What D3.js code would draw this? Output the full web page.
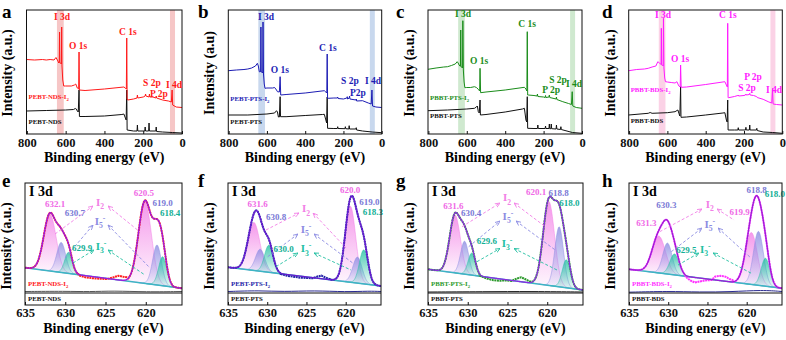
<!DOCTYPE html>
<html>
<head>
<meta charset="utf-8">
<script src="https://cdn.jsdelivr.net/npm/d3@7"></script>
<style>
body { margin: 0; background: #fff; }
svg text { font-family: "Liberation Serif", "Times New Roman", serif; font-weight: bold; }
</style>
</head>
<body>
<svg id="fig" width="786" height="340"></svg>
<script>
// ---- survey spectra: [binding energy (eV), intensity (a.u.)] ----
var surveyA_I2 = [[802,74.5],[760,74],[720,74.5],[700,74],[680,74.5],[660,74],[650,76.5],[640,73],[636,71],[633,72],[631.5,102],[630,71],[626,71],[622,70],[620.5,107],[619,68],[615,54],[610,48],[600,48],[570,48],[555,49],[548,50],[540,46],[533,45],[531,82],[529,44],[500,43.5],[400,45],[300,47],[292,46],[287,45],[285,96],[283,35],[280,34],[250,35],[232,36],[230,39],[228,36],[200,37],[190,38],[188,40],[186,38],[170,37],[168,40],[166,37],[150,37],[135,36],[133,38],[131,36],[100,34],[70,33],[55,32],[51,44],[48,29],[30,27],[0,26.5]];
var surveyA = [[802,23],[700,23.5],[600,24],[560,24.5],[550,25.5],[545,25],[540,23],[535,22],[531,44],[529,17.5],[500,17.5],[400,18],[310,19.5],[300,20],[292,16],[288,14],[285,44],[283,4],[250,3],[232,3],[230,9],[228,3],[192,3],[190,7],[188,3],[172,3],[170,11],[168,3],[135,3],[133,7],[131,2.5],[100,2],[50,1.5],[0,1]];

var surveyB_I2 = [[802,63.3],[760,64],[720,64.5],[700,65],[680,66],[660,68],[650,70.7],[645,68],[640,62.3],[636,62],[633,63],[631.5,107],[630,62],[626,62],[622,61],[620.5,112],[618,60],[614,50],[610,45.7],[600,46],[570,46],[560,46.5],[550,44],[545,42.3],[535,42],[531,57.3],[528,39],[500,39.5],[400,41],[300,43.3],[292,42],[287,41],[285,80],[283,35.7],[280,35.7],[250,36],[232,36],[230,37],[228,35.5],[200,35],[182,36],[180,37.3],[178,35],[170,36],[168,38],[166,35],[135,34],[133,35],[131,33],[100,33.3],[70,31],[55,30],[51,44],[48,28],[30,27],[0,26.5]];
var surveyB = [[802,19],[700,19],[600,20],[560,21],[550,23.3],[545,22],[540,17],[535,17],[531,37.3],[529,17.3],[500,17.3],[400,18.5],[310,19.5],[300,19.7],[292,14],[288,11],[285,37],[283,5.7],[250,5.5],[232,5.5],[230,7.3],[228,5.5],[192,5.3],[190,7.3],[188,5.3],[172,5],[170,8.3],[168,5],[135,5],[133,6.3],[131,4],[100,3],[50,2],[0,1.3]];

var surveyC_I2 = [[802,64.7],[760,66],[720,67],[700,67.3],[680,68.5],[660,70],[650,72.3],[645,71],[640,69],[636,68],[633,68],[631.5,104],[630,67],[626,67],[622,66],[620.5,113.3],[618,64],[614,52],[610,46.3],[600,46.5],[580,46.5],[560,47.3],[550,46.5],[540,44.7],[533,43],[531,65.7],[528,41.3],[500,42],[400,44],[300,46.7],[292,45],[287,43],[285,102.3],[283,39],[280,39],[250,38.5],[234,38],[232,40],[230,37.5],[200,37],[192,36.5],[190,38.5],[188,36.5],[172,37],[170,39],[168,36.5],[135,35],[133,37],[131,34.5],[100,32.3],[70,30.5],[55,29.5],[51,42.3],[48,28],[30,26.5],[0,25.7]];
var surveyC = [[802,23.3],[700,24],[600,25],[560,25.7],[550,27],[545,28],[540,22.3],[535,21],[531,34],[529,19],[500,19.5],[400,22],[310,25],[300,25.7],[292,14],[288,12],[285,37.3],[283,5.7],[250,5.5],[232,5.5],[230,9],[228,5.5],[192,5.5],[190,8],[188,5.5],[172,5.5],[170,10],[168,5.3],[162,5.3],[160,10],[158,5.3],[135,5],[133,9],[131,5],[112,4.5],[110,7.3],[108,4.5],[50,1.5],[0,0.7]];

var surveyD_I2 = [[802,63.3],[760,64.5],[720,65],[700,65.7],[680,67],[660,68],[650,72.3],[645,71.5],[640,70.7],[636,70],[633,70],[631.5,105.7],[630,69],[626,69],[622,68],[620.5,115.7],[618,66],[614,56],[610,52.3],[600,52],[580,51.5],[560,51],[550,52.3],[545,50],[540,48],[533,47],[531,69],[528,46.7],[500,47],[400,49.5],[300,52.3],[292,49],[287,47],[285,110.7],[283,36.3],[280,36.3],[250,37.5],[232,38.5],[230,39],[228,38],[200,38.5],[192,39],[190,40],[188,39],[172,39.5],[170,40.7],[168,39],[150,38.5],[135,37.5],[133,37.3],[131,36.5],[100,34.7],[70,32],[55,31],[51,45.7],[48,30],[30,29.5],[0,29]];
var surveyD = [[802,19],[700,20.7],[690,21.5],[680,20.7],[600,21.3],[560,22.3],[550,23.5],[545,24],[540,20.7],[535,18],[531,47.3],[529,16.7],[500,17],[400,19],[310,21],[300,21.3],[292,14],[288,12],[285,34],[283,4],[250,4],[232,4],[230,6.3],[228,4],[192,4],[190,6.7],[188,4],[172,4],[170,9],[168,4],[135,4],[133,5.7],[131,3.5],[100,2],[50,1.5],[0,0.7]];

var surveyTicks = [800, 600, 400, 200, 0];
var bandI3d = [645, 610];
var bandI4d = [62, 36];

// peak names on the surveys: [text, eV, intensity]
var peakLabelsA = [["I 3d",619,114],["O 1s",536,85],["C 1s",279,99],["S 2p",155,48],["P 2p",119,37],["I 4d",41,46]];
var peakLabelsB = [["I 3d",605,114],["O 1s",532,61],["C 1s",281,83],["S 2p",166,50],["P2p",124,38],["I 4d",45,50]];
var peakLabelsC = [["I 3d",620,117],["O 1s",536,70],["C 1s",286,107],["S 2p",125,51],["P 2p",161,41],["I 4d",42,47]];
var peakLabelsD = [["I 3d",623,116],["O 1s",534,72],["C 1s",284,116],["P 2p",153,54],["S 2p",184,43],["I 4d",43,41]];

// ---- I 3d high resolution: fitted components [centre eV, height, fwhm] ----
var hrTicks = [635, 630, 625, 620];
var bgE = [25.3, 4.7], bgF = [25.7, 7], bgG = [23.7, 3], bgH = [23.7, 4.7];

var fitE_I2 = [[631.9,57,1.8],[620.1,82,1.9]];
var fitE_I5 = [[630.5,30,1.3],[618.6,40,1.3]];
var fitE_I3 = [[629.6,21,1.1],[617.9,29,1.2]];
var fitF_I2 = [[631.7,48,1.8],[619.4,76,1.6]];
var fitF_I5 = [[630.9,22,1.4],[618.5,26,1.4]];
var fitF_I3 = [[629.8,27,1.3],[617.7,34,1.3]];
var fitG_I2 = [[631.6,58,1.6],[619.8,84,1.7]];
var fitG_I5 = [[630.4,33,1.2],[618.5,60,1.3]];
var fitG_I3 = [[629.5,22,1.1],[617.6,28,1.2]];
var fitH_I2 = [[631.2,37,2.0],[619.4,52,1.8]];
var fitH_I5 = [[630.1,31,1.4],[618.5,54,1.5]];
var fitH_I3 = [[629.2,21,1.4],[617.6,28,1.3]];

// measured points in the valley between the doublets
var midE = [[628.3,17.5],[627.5,15.7],[626.6,14.7],[625.7,14.3],[624.8,14.0],[624.0,15.7],[623.4,17.3],[622.8,16.3],[622.2,15.5]];
var midF = [[628.3,19],[627.5,17.3],[626.7,16.3],[625.8,15.3],[625.0,15.0],[624.2,14.8],[623.6,16.5],[623.1,17.5],[622.6,15.5],[622.0,13.8]];
var midG = [[628.5,17.5],[627.6,14.5],[626.8,12.8],[626.0,12.3],[625.2,12.5],[624.5,12.0],[623.8,14.5],[623.3,15.7],[622.8,14.0],[622.2,11.5],[621.8,11.5]];
var midH = [[627.8,16.5],[627.2,12.5],[626.6,10.5],[626.0,11.5],[625.3,12.5],[624.5,13.0],[624.0,16.5],[623.3,17.2],[622.7,16.3],[622.2,14.0],[621.8,13.0]];

// pristine samples (no iodine)
var pristE = [[635,1.5],[630,1.8],[627,1.2],[624,2.2],[620,1.0],[615.5,1.5]];
var pristF = [[635,1.5],[631,2.5],[628,1.2],[624,2.5],[620,1.0],[617,2.0],[615.5,1.5]];
var pristG = [[635,1.0],[628,1.3],[622,1.6],[615.5,1.0]];
var pristH = [[635,0.8],[630,1.8],[626,0.8],[622,1.2],[618,3.0],[615.5,1.5]];

// binding energy labels: [text, eV, intensity, component]
var labelsE = [["632.1",631.27,89,"I2"],["630.7",628.79,79.7,"I5"],["629.9",627.9,45.3,"I3"],["620.5",620.22,99.7,"I2"],["619.0",617.9,89.7,"I5"],["618.4",616.99,80.3,"I3"]];
var labelsF = [["631.6",631.21,89,"I2"],["630.8",628.88,76.3,"I5"],["630.0",627.9,43.7,"I3"],["620.0",619.45,103,"I2"],["619.0",616.98,90.7,"I5"],["618.3",616.55,80.7,"I3"]];
var labelsG = [["631.6",631.8,87,"I2"],["630.4",629.59,80.5,"I5"],["629.6",627.6,52.3,"I3"],["620.1",621.4,101.3,"I2"],["618.8",618.56,99.7,"I5"],["618.0",617.2,90,"I3"]];
var labelsH = [["631.3",632.79,69.7,"I2"],["630.3",630.24,88,"I5"],["629.5",627.7,43,"I3"],["619.9",620.89,81.3,"I2"],["618.8",618.75,103,"I5"],["618.0",616.42,99,"I3"]];

// species tags and their dashed legs [e1, i1, e2, i2]
var speciesE = [[625.68,90],[625.68,71],[625.56,46]];
var speciesF = [[625.06,83.7],[625.06,63],[625.06,43.7]];
var speciesG = [[625.06,94.7],[624.94,76.3],[625.06,49]];
var speciesH = [[624.71,88],[624.71,68],[625.27,43]];
var legsE = [[[631.27,59,626.55,87],[624.69,87,620.72,61]],[[630.03,35,626.55,68],[624.69,68,619.47,25]],[[629.04,30,626.43,43],[624.69,43,620.1,18]]];
var legsF = [[[630.16,63,625.95,80],[624.16,80,619.96,45]],[[629.94,36.3,626.08,59],[624.04,59,619.1,30]],[[628.88,26.3,626.08,40],[624.04,40,619.32,23]]];
var legsG = [[[630.72,66.3,625.94,90],[624.18,90,620.24,66.3]],[[629.88,46.3,625.94,72],[623.93,72,618.99,43]],[[628.84,31.3,625.94,44.5],[624.18,44.5,618.77,23]]];
var legsH = [[[631.09,61.3,625.69,84],[623.78,84,621.61,73]],[[629.61,41.3,625.69,65],[623.65,65,619.41,34.7]],[[628.75,28,626.08,40],[624.29,40,619.41,19.7]]];

var species = ["I2", "I5", "I3"];
var speciesText = { I2: [["I",""],["2","sub"]], I5: [["I",""],["5","sub"],["-","sup"]], I3: [["I",""],["3","sub"],["-","sup"]] };
var compColor = { I2: "#f27fe6", I5: "#8c8ce2", I3: "#22bfa2" };
var compText = { I2: "#f06ae6", I5: "#7a7ad6", I3: "#14b096" };

var svg = d3.select("#fig");
var defs = svg.append("defs");

species.forEach(function(s) {
  var g = defs.append("linearGradient").attr("id", "grad" + s)
    .attr("x1", 0).attr("y1", 0).attr("x2", 0).attr("y2", 1);
  g.append("stop").attr("offset", "0%").attr("stop-color", compColor[s]).attr("stop-opacity", 0.8);
  g.append("stop").attr("offset", "100%").attr("stop-color", compColor[s]).attr("stop-opacity", 0.05);

  defs.append("marker").attr("id", "arr" + s)
    .attr("viewBox", "0 0 6 6").attr("refX", 6).attr("refY", 3)
    .attr("markerUnits", "userSpaceOnUse").attr("markerWidth", 5).attr("markerHeight", 5)
    .attr("orient", "auto-start-reverse")
    .append("path").attr("d", "M0,0.5 L6,3 L0,5.5").attr("fill", "none")
    .attr("stroke", compColor[s]).attr("stroke-width", 1);
});

// text with sub/superscripts
function richText(g, x, y, parts, size, color, anchor) {
  var t = g.append("text").attr("x", x).attr("y", y)
    .attr("font-size", size).attr("fill", color)
    .attr("text-anchor", anchor || "start");
  var shift = 0;
  parts.forEach(function(p) {
    var s = p[1] === "sub" ? size * 0.3 : (p[1] === "sup" ? -size * 0.35 : 0);
    t.append("tspan").attr("dy", s - shift).attr("font-size", p[1] ? size * 0.7 : size).text(p[0]);
    shift = s;
  });
  return t;
}

function panelLetter(x, y, letter) {
  svg.append("text").attr("x", x).attr("y", y).attr("font-size", 19).text(letter);
}

function yTitle(x, y, txt) {
  svg.append("text")
    .attr("transform", "translate(" + x + "," + y + ") rotate(-90)")
    .attr("text-anchor", "middle").attr("dy", "0.35em")
    .attr("font-size", 14).text(txt);
}

// ---------------- top row: survey spectra ----------------
var topPanels = [
  { letter: "a", lx: 2, x0: 26.5, x1: 182, color: "#ff1a1a", band: "#f6c6c6", ylab: "Intensity (a.u.)",
    iod: surveyA_I2, pure: surveyA, peaks: peakLabelsA, name: "PEBT-NDS", nameI: 35, nameP: 10 },
  { letter: "b", lx: 198, x0: 228.3, x1: 381.7, color: "#1c1cb4", band: "#c8d8ee", ylab: "Intensity (a.u)",
    iod: surveyB_I2, pure: surveyB, peaks: peakLabelsB, name: "PEBT-PTS", nameI: 33, nameP: 10 },
  { letter: "c", lx: 396, x0: 428, x1: 582, color: "#1a8c1a", band: "#cfe9cf", ylab: "Intensity (a.u.)",
    iod: surveyC_I2, pure: surveyC, peaks: peakLabelsC, name: "PBBT-PTS", nameI: 34, nameP: 16 },
  { letter: "d", lx: 602, x0: 628.7, x1: 782.3, color: "#ff1aff", band: "#fbd2e6", ylab: "Intensity (a.u.)",
    iod: surveyD_I2, pure: surveyD, peaks: peakLabelsD, name: "PBBT-BDS", nameI: 42, nameP: 11 }
];

topPanels.forEach(function(p) {
  var x = d3.scaleLinear().domain([802, 0]).range([p.x0, p.x1]);
  var y = d3.scaleLinear().domain([0, 124]).range([134, 10]);
  var g = svg.append("g");

  [bandI3d, bandI4d].forEach(function(b) {
    g.append("rect").attr("x", x(b[0])).attr("y", 10)
      .attr("width", x(b[1]) - x(b[0])).attr("height", 124)
      .attr("fill", p.band);
  });

  var line = d3.line().x(function(d) { return x(d[0]); }).y(function(d) { return y(d[1]); });
  g.append("path").datum(p.pure).attr("d", line)
    .attr("fill", "none").attr("stroke", "#111").attr("stroke-width", 1);
  g.append("path").datum(p.iod).attr("d", line)
    .attr("fill", "none").attr("stroke", p.color).attr("stroke-width", 1);

  g.append("rect").attr("x", p.x0).attr("y", 10)
    .attr("width", p.x1 - p.x0).attr("height", 124)
    .attr("fill", "none").attr("stroke", "#111").attr("stroke-width", 1);

  var ax = g.append("g").attr("transform", "translate(0,134)")
    .call(d3.axisBottom(x).tickValues(surveyTicks).tickSize(-3).tickPadding(4));
  ax.select(".domain").remove();
  ax.selectAll("line").attr("stroke", "#111");
  ax.selectAll("text").attr("font-size", 12.5).attr("fill", "#111")
    .style("font-family", "Liberation Serif").style("font-weight", "bold");

  g.selectAll(".pk").data(p.peaks).enter().append("text")
    .attr("x", function(d) { return x(d[1]); })
    .attr("y", function(d) { return y(d[2]); })
    .attr("text-anchor", "middle").attr("font-size", 9.5)
    .attr("fill", p.color).text(function(d) { return d[0]; });

  richText(g, p.x0 + 2, y(p.nameI), [[p.name + "-I", ""], ["2", "sub"]], 6.8, p.color);
  richText(g, p.x0 + 2, y(p.nameP), [[p.name, ""]], 6.8, "#111");

  svg.append("text").attr("x", (p.x0 + p.x1) / 2).attr("y", 162)
    .attr("text-anchor", "middle").attr("font-size", 14).text("Binding energy (eV)");
  yTitle(p.x0 - 19, 73, p.ylab);
  panelLetter(p.lx, 18, p.letter);
});

// ---------------- bottom row: I 3d fits ----------------
var botPanels = [
  { letter: "e", lx: 2, x0: 25, x1: 182, data: "#ff2020", env: "#9a1ae0", pcol: "#555",
    bg: bgE, fits: [fitE_I2, fitE_I5, fitE_I3], mid: midE, prist: pristE,
    labels: labelsE, tags: speciesE, legs: legsE, name: "PEBT-NDS" },
  { letter: "f", lx: 198, x0: 228, x1: 381, data: "#2424a8", env: "#6a1ad0", pcol: "#2a2a90",
    bg: bgF, fits: [fitF_I2, fitF_I5, fitF_I3], mid: midF, prist: pristF,
    labels: labelsF, tags: speciesF, legs: legsF, name: "PEBT-PTS" },
  { letter: "g", lx: 396, x0: 428, x1: 583, data: "#2c9a2c", env: "#8a2be2", pcol: "#222",
    bg: bgG, fits: [fitG_I2, fitG_I5, fitG_I3], mid: midG, prist: pristG,
    labels: labelsG, tags: speciesG, legs: legsG, name: "PBBT-PTS" },
  { letter: "h", lx: 602, x0: 629, x1: 782, data: "#ff33ff", env: "#9b1fd6", pcol: "#2a2a90",
    bg: bgH, fits: [fitH_I2, fitH_I5, fitH_I3], mid: midH, prist: pristH,
    labels: labelsH, tags: speciesH, legs: legsH, name: "PBBT-BDS" }
];

var grid = d3.range(615.5, 635.001, 0.05);

function peakAt(pk, e) {
  return pk[1] * Math.exp(-4 * Math.LN2 * (e - pk[0]) * (e - pk[0]) / (pk[2] * pk[2]));
}

botPanels.forEach(function(p, i) {
  var x = d3.scaleLinear().domain([635, 615.5]).range([p.x0, p.x1]);
  var y = d3.scaleLinear().domain([-12, 110]).range([305, 183]);
  var bg = d3.scaleLinear().domain([635, 615.5]).range(p.bg);
  var g = svg.append("g");

  defs.append("clipPath").attr("id", "clip" + i)
    .append("rect").attr("x", p.x0).attr("y", 183)
    .attr("width", p.x1 - p.x0).attr("height", 122);
  var plot = g.append("g").attr("clip-path", "url(#clip" + i + ")");

  // component areas
  species.forEach(function(s, k) {
    p.fits[k].forEach(function(pk) {
      var pts = grid.filter(function(e) { return Math.abs(e - pk[0]) < pk[2] * 2; });
      var area = d3.area()
        .x(function(e) { return x(e); })
        .y0(function(e) { return y(bg(e)); })
        .y1(function(e) { return y(bg(e) + peakAt(pk, e)); });
      plot.append("path").datum(pts).attr("d", area)
        .attr("fill", "url(#grad" + s + ")")
        .attr("stroke", compColor[s]).attr("stroke-width", 0.6).attr("stroke-opacity", 0.8);
    });
  });

  // background line
  plot.append("line").attr("x1", x(635)).attr("x2", x(615.5))
    .attr("y1", y(bg(635))).attr("y2", y(bg(615.5)))
    .attr("stroke", "#3cb5c4").attr("stroke-width", 1.6);

  var envelope = grid.map(function(e) {
    var v = bg(e);
    p.fits.forEach(function(f) { f.forEach(function(pk) { v += peakAt(pk, e); }); });
    return [e, v];
  });

  var hi = p.mid[0][0], lo = p.mid[p.mid.length - 1][0];
  var measured = envelope.filter(function(d) { return d[0] < lo; })
    .concat(p.mid.slice().reverse())
    .concat(envelope.filter(function(d) { return d[0] > hi; }));

  var line = d3.line().x(function(d) { return x(d[0]); }).y(function(d) { return y(d[1]); });
  plot.append("path").datum(measured).attr("d", line)
    .attr("fill", "none").attr("stroke", p.data).attr("stroke-width", 2)
    .attr("stroke-dasharray", "2,0.6");
  plot.append("path").datum(envelope).attr("d", line)
    .attr("fill", "none").attr("stroke", p.env).attr("stroke-width", 1.3);

  // pristine sample and divider
  plot.append("path").datum(p.prist).attr("d", d3.line().curve(d3.curveBasis)
      .x(function(d) { return x(d[0]); }).y(function(d) { return y(d[1]); }))
    .attr("fill", "none").attr("stroke", p.pcol).attr("stroke-width", 1);
  g.append("line").attr("x1", p.x0).attr("x2", p.x1).attr("y1", y(0)).attr("y2", y(0))
    .attr("stroke", "#111").attr("stroke-width", 1);

  // dashed legs and species tags
  species.forEach(function(s, k) {
    p.legs[k].forEach(function(l, j) {
      g.append("line")
        .attr("x1", x(l[0])).attr("y1", y(l[1])).attr("x2", x(l[2])).attr("y2", y(l[3]))
        .attr("stroke", compColor[s]).attr("stroke-width", 0.9).attr("stroke-dasharray", "3,2")
        .attr(j === 0 ? "marker-end" : "marker-start", "url(#arr" + s + ")");
    });
    richText(g, x(p.tags[k][0]), y(p.tags[k][1]) + 3, speciesText[s], 11, compColor[s], "middle");
  });

  g.selectAll(".val").data(p.labels).enter().append("text")
    .attr("x", function(d) { return x(d[1]); })
    .attr("y", function(d) { return y(d[2]); })
    .attr("dy", "0.35em").attr("text-anchor", "middle").attr("font-size", 9)
    .attr("fill", function(d) { return compText[d[3]]; })
    .text(function(d) { return d[0]; });

  g.append("text").attr("x", p.x0 + 4).attr("y", 196).attr("font-size", 14).text("I 3d");

  richText(g, p.x0 + 3, 286, [[p.name + "-I", ""], ["2", "sub"]], 6.8, p.data);
  richText(g, p.x0 + 3, 301, [[p.name, ""]], 6.8, "#111");

  g.append("rect").attr("x", p.x0).attr("y", 183)
    .attr("width", p.x1 - p.x0).attr("height", 122)
    .attr("fill", "none").attr("stroke", "#111").attr("stroke-width", 1);

  var ax = g.append("g").attr("transform", "translate(0,305)")
    .call(d3.axisBottom(x).tickValues(hrTicks).tickSize(-3).tickPadding(3));
  ax.select(".domain").remove();
  ax.selectAll("line").attr("stroke", "#111");
  ax.selectAll("text").attr("font-size", 12.5).attr("fill", "#111")
    .style("font-family", "Liberation Serif").style("font-weight", "bold");

  svg.append("text").attr("x", (p.x0 + p.x1) / 2).attr("y", 333)
    .attr("text-anchor", "middle").attr("font-size", 14).text("Binding energy (eV)");
  yTitle(p.x0 - 19, 246, "Intensity (a.u.)");
  panelLetter(p.lx, 187, p.letter);
});
</script>
</body>
</html>
